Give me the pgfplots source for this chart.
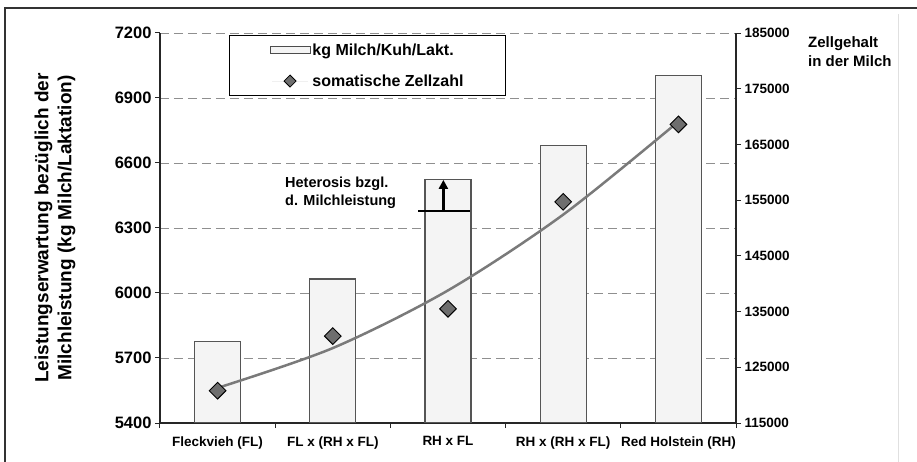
\documentclass[border=0pt]{standalone}
\usepackage{pgfplots}
\pgfplotsset{compat=1.18}
\usepackage{pgfplotstable}
\usepackage{fontspec}
\setmainfont{Liberation Sans}
\usetikzlibrary{arrows.meta,calc}

\definecolor{barfill}{HTML}{F4F4F4}
\definecolor{baredge}{HTML}{555555}
\definecolor{mkfill}{HTML}{6E6E6E}
\definecolor{trend}{HTML}{7A7A7A}
\definecolor{gridc}{HTML}{8F8F8F}

\newcommand\xlab{\fontsize{13.5bp}{16bp}\selectfont\bfseries}
\newcommand\ylab{\fontsize{16.5bp}{19bp}\selectfont\bfseries}
\newcommand\rlab{\fontsize{13.5bp}{16bp}\selectfont\bfseries}

% Milchleistung (kg/Laktation)
\pgfplotstableread{
x milk
1 5775
2 6065
3 6525
4 6680
5 7005
}\milk
% somatische Zellzahl
\pgfplotstableread{
x scc
1 120800
2 130600
3 135500
4 154700
5 168600
}\scc
% polynomischer Trend (Werte aus dem Bild)
\pgfplotstableread{
x fit
1 121300
2 128450
3 138800
4 152400
5 169100
}\fit

\pgfplotsset{
  common/.style={
    scale only axis, width=576bp, height=390bp,
    xmin=0.5, xmax=5.5,
    scaled y ticks=false,
    /pgf/number format/assume math mode=true,
    /pgf/number format/fixed,
    /pgf/number format/precision=0,
    /pgf/number format/1000 sep={},
    tick align=outside,
    axis line style={black!85, line width=1.2bp},
    tick style={black!85, line width=1bp},
    major tick length=5bp, minor tick length=5bp,
  }
}

\begin{document}
\begin{tikzpicture}
\begin{axis}[common,
  axis x line*=bottom, axis y line*=left,
  ymin=5400, ymax=7200, ytick={5400,5700,...,7200},
  yticklabel={\ylab\pgfmathprintnumber{\tick}\hspace{4bp}},
  xtick={1,...,5},
  xticklabels={{\xlab Fleckvieh (FL)}, {\xlab FL x (RH x FL)}, {\xlab RH x FL},
    {\xlab RH x (RH x FL)}, {\xlab Red Holstein (RH)}},
  xticklabel style={yshift=-5bp},
  major x tick style={draw=none},
  minor xtick={0.5,1.5,...,5.5},
  ymajorgrids,
  grid style={gridc, dash pattern=on 9bp off 5bp, line width=0.9bp},
  legend style={at={(0.12,0.995)}, anchor=north west, draw=black,
    line width=1bp, font=\fontsize{16bp}{19bp}\selectfont\bfseries,
    inner xsep=40bp, inner ysep=6bp, row sep=14bp},
  legend cell align=left,
]
\addplot[ybar, bar width=0.4, fill=barfill, draw=baredge, line width=1.3bp,
  legend image code/.code={\draw[fill=barfill, draw=black!70, line width=0.8bp] (0bp,-3.5bp) rectangle (40bp,3.5bp);}]
  table[x=x, y=milk]{\milk};
\addlegendentry{\bfseries kg Milch/Kuh/Lakt.}
\addlegendimage{legend image code/.code={
  \draw[black!6, line width=0.8bp] (2bp,0) -- (38bp,0);
  \draw[fill=mkfill, draw=black, line width=0.8bp] (20bp,6bp) -- (26bp,0) -- (20bp,-6bp) -- (14bp,0) -- cycle;}}
\addlegendentry{\bfseries somatische Zellzahl}

\draw[black, line width=1.5bp] (axis cs:2.74,6378) -- (axis cs:3.19,6378);
\draw[black, line width=2.5bp, -{Triangle[length=9bp, width=9bp]}] (axis cs:2.96,6378) -- (axis cs:2.96,6522);
\node[anchor=west, align=left, inner sep=0, font=\fontsize{14.5bp}{18bp}\selectfont\bfseries]
  at (axis cs:1.585,6461) {Heterosis bzgl.\\d. Milchleistung};
\coordinate (O) at (rel axis cs:0,0);
\end{axis}

\begin{axis}[common,
  axis x line=none, axis y line*=right,
  ymin=115000, ymax=185000, ytick={115000,125000,...,185000},
  yticklabel={\rlab\pgfmathprintnumber{\tick}},
]
\addplot[smooth, trend, line width=2.5bp] table[x=x, y=fit]{\fit};
\addplot[only marks, mark=square*, mark size=5.9bp,
  mark options={rotate=45, fill=mkfill, draw=black, line width=0.9bp}]
  table[x=x, y=scc]{\scc};
\end{axis}

\begin{scope}[shift={(O)}, x=1bp, y=1bp]
\draw[black!80, line width=1.5bp] (-155,-39) -- (-155,415) -- (757,415);
\draw[black!12, line width=1bp] (738,-39) -- (738,409);
\node[rotate=90, align=center, font=\fontsize{19bp}{23bp}\selectfont\bfseries]
  at (-105,195) {Leistungserwartung bezüglich der\\Milchleistung (kg Milch/Laktation)};
\node[anchor=north west, align=left, inner sep=0, font=\fontsize{15bp}{19bp}\selectfont\bfseries]
  at (648,387) {Zellgehalt\\in der Milch};
\end{scope}
\pgfresetboundingbox
\path[use as bounding box] ($(O)+(-160bp,-39bp)$) rectangle ($(O)+(757bp,423bp)$);
\end{tikzpicture}
\end{document}
